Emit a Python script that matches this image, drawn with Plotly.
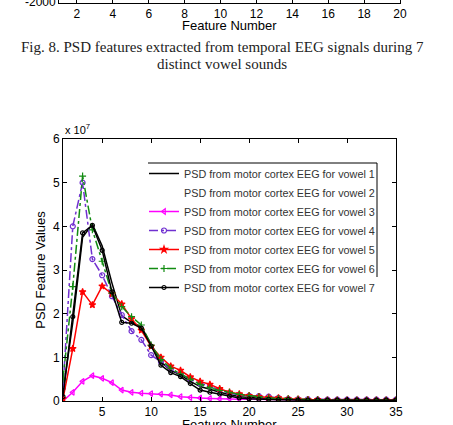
import plotly.graph_objects as go

W, H = 453, 425

# ---------------- data (PSD values in units of 1e7) ----------------
features = list(range(1, 36))

vowel1 = [0.2, 1.8, 3.75, 4.05, 3.55, 2.7, 1.95, 1.8, 1.7, 1.3, 0.9, 0.7, 0.6, 0.45, 0.33,
          0.27, 0.2, 0.15, 0.1, 0.08, 0.06, 0.05, 0.04, 0.03, 0.03, 0.02, 0.02, 0.02, 0.02,
          0.02, 0.02, 0.02, 0.02, 0.02, 0.02]
vowel2 = [0.3, 2.2, 4.2, 4.3, 3.6, 2.9, 2.2, 1.9, 1.6, 1.2, 0.9, 0.72, 0.6, 0.5, 0.4,
          0.3, 0.25, 0.2, 0.15, 0.1, 0.08, 0.06, 0.05, 0.04, 0.03, 0.03, 0.02, 0.02, 0.02,
          0.02, 0.02, 0.02, 0.02, 0.02, 0.02]
vowel3 = [0.0, 0.2, 0.45, 0.58, 0.52, 0.42, 0.25, 0.2, 0.18, 0.17, 0.16, 0.14, 0.1, 0.08, 0.07,
          0.06, 0.05, 0.05, 0.04, 0.04, 0.04, 0.03, 0.03, 0.03, 0.03, 0.03, 0.02, 0.02, 0.02,
          0.02, 0.02, 0.02, 0.02, 0.02, 0.02]
vowel4 = [0.3, 4.0, 5.0, 3.25, 2.88, 2.4, 1.97, 1.6, 1.4, 1.05, 0.9, 0.72, 0.62, 0.5, 0.4,
          0.34, 0.25, 0.18, 0.14, 0.12, 0.11, 0.1, 0.07, 0.05, 0.04, 0.04, 0.03, 0.03, 0.03,
          0.03, 0.03, 0.03, 0.03, 0.03, 0.03]
vowel5 = [0.05, 1.2, 2.5, 2.2, 2.63, 2.45, 2.22, 1.88, 1.62, 1.25, 1.0, 0.8, 0.7, 0.55, 0.45,
          0.38, 0.28, 0.2, 0.16, 0.12, 0.1, 0.08, 0.07, 0.05, 0.04, 0.03, 0.03, 0.02, 0.02,
          0.02, 0.02, 0.02, 0.02, 0.02, 0.02]
vowel6 = [0.5, 2.62, 5.15, 3.92, 3.2, 2.47, 2.16, 1.93, 1.74, 1.28, 0.95, 0.75, 0.62, 0.5, 0.38,
          0.3, 0.24, 0.2, 0.15, 0.12, 0.09, 0.07, 0.06, 0.05, 0.04, 0.03, 0.03, 0.02, 0.02,
          0.02, 0.02, 0.02, 0.02, 0.02, 0.02]
vowel7 = [0.1, 1.93, 3.85, 4.02, 3.45, 2.5, 1.8, 1.78, 1.67, 1.26, 0.82, 0.65, 0.56, 0.4, 0.25,
          0.2, 0.16, 0.11, 0.07, 0.05, 0.04, 0.04, 0.03, 0.03, 0.02, 0.02, 0.02, 0.02, 0.02,
          0.02, 0.02, 0.02, 0.02, 0.02, 0.02]

x_ticks = [5, 10, 15, 20, 25, 30, 35]
y_ticks = [0, 1, 2, 3, 4, 5, 6]
prev_x_ticks = [2, 4, 6, 8, 10, 12, 14, 16, 18, 20]
prev_y_ticks = [-2000]

x_title = "Feature Number"
y_title = "PSD Feature Values"
legend_names = ["PSD from motor cortex EEG for vowel %d" % i for i in range(1, 8)]
caption1 = "Fig. 8. PSD features extracted from temporal EEG signals during 7"
caption2 = "distinct vowel sounds"

# ---------------- styles ----------------
series = [
    # (values, name, color, dash, marker symbol, marker size, rank)
    (vowel2, legend_names[1], "white", "solid", None, 0, 2),
    (vowel1, legend_names[0], "black", "solid", None, 0, 1),
    (vowel3, legend_names[2], "#ff00ff", "solid", "triangle-left-open", 5, 3),
    (vowel4, legend_names[3], "#7030d0", "dashdot", "circle-open", 5, 4),
    (vowel5, legend_names[4], "#ff0000", "solid", "star", 5, 5),
    (vowel6, legend_names[5], "#128c12", "dashdot", "cross-thin-open", 5, 6),
    (vowel7, legend_names[6], "black", "solid", "circle-open", 4, 7),
]

fig = go.Figure()
for vals, name, color, dash, sym, msize, rank in series:
    mode = "lines+markers" if sym else "lines"
    tr = dict(x=features, y=vals, name=name, mode=mode, legendrank=rank,
              line=dict(color=color, width=1.5, dash=dash))
    if sym:
        tr["marker"] = dict(symbol=sym, size=msize, color=color,
                            line=dict(color=color, width=1.2))
    fig.add_trace(go.Scatter(**tr))

SANS = "Liberation Sans, Arial, sans-serif"
TICKFONT = dict(family=SANS, size=12, color="black")
TITLEFONT = dict(family=SANS, size=13, color="black")

fig.update_layout(
    width=W, height=H,
    margin=dict(l=0, r=0, t=0, b=0, autoexpand=False),
    paper_bgcolor="white", plot_bgcolor="white",
    showlegend=True,
    legend=dict(x=144 / W, y=1 - 159 / H, xanchor="left", yanchor="top",
                bgcolor="rgba(255,255,255,0)", borderwidth=0,
                font=dict(family=SANS, size=10.8, color="#333"),
                itemwidth=30, tracegroupgap=0),
    xaxis=dict(domain=[63 / W, 396 / W], range=[1, 35], tickvals=x_ticks, automargin=False,
               ticks="inside", ticklen=4, tickcolor="black", mirror="ticks",
               showline=True, linecolor="black", linewidth=1,
               showgrid=False, zeroline=False, tickfont=TICKFONT),
    yaxis=dict(domain=[24 / H, 286 / H], range=[0, 6], tickvals=y_ticks, automargin=False,
               ticks="inside", ticklen=4, tickcolor="black", mirror="ticks",
               showline=True, linecolor="black", linewidth=1,
               showgrid=False, zeroline=False, tickfont=TICKFONT,
               title=dict(text=y_title, standoff=4, font=TITLEFONT)),
    xaxis2=dict(domain=[59 / W, 400 / W], range=[1, 20], tickvals=prev_x_ticks, anchor="y2",
                automargin=False,
                ticks="inside", ticklen=4, tickcolor="black", mirror="ticks",
                showline=True, linecolor="black", linewidth=1,
                showgrid=False, zeroline=False, tickfont=TICKFONT),
    yaxis2=dict(domain=[1 - 3 / H, 1], range=[-2000, 0], tickvals=prev_y_ticks, anchor="x2",
                automargin=False, showticklabels=False,
                ticks="inside", ticklen=4, tickcolor="black", mirror=True,
                showline=True, linecolor="black", linewidth=1,
                showgrid=False, zeroline=False),
)

# anchor an invisible trace on the remnant axes so they render
fig.add_trace(go.Scatter(x=[None], y=[None], xaxis="x2", yaxis="y2", showlegend=False,
                         hoverinfo="skip"))

# remnant y tick label of the previous figure (cut by the page top)
fig.add_annotation(text=str(prev_y_ticks[0]), x=58 / W, y=1 - 2 / H, xref="paper", yref="paper",
                   xanchor="right", yanchor="middle", showarrow=False, font=TICKFONT)
# axis titles
fig.add_annotation(text=x_title, x=229 / W, y=1 - 26 / H, xref="paper", yref="paper",
                   xanchor="center", yanchor="middle", showarrow=False, font=TITLEFONT)
fig.add_annotation(text=x_title, x=229 / W, y=1 - 424 / H, xref="paper", yref="paper",
                   xanchor="center", yanchor="middle", showarrow=False, font=TITLEFONT)

fig.add_annotation(text="x 10<sup>7</sup>", x=63 / W, y=1 - 129 / H, xref="paper", yref="paper",
                   xanchor="left", yanchor="middle", showarrow=False,
                   font=dict(family=SANS, size=11, color="black"))
fig.add_annotation(text=caption1, x=222 / W, y=1 - 47 / H, xref="paper", yref="paper",
                   xanchor="center", yanchor="middle", showarrow=False,
                   font=dict(family="Liberation Serif, Times New Roman, serif", size=15, color="#222"))
fig.add_annotation(text=caption2, x=222 / W, y=1 - 64 / H, xref="paper", yref="paper",
                   xanchor="center", yanchor="middle", showarrow=False,
                   font=dict(family="Liberation Serif, Times New Roman, serif", size=15, color="#222"))

# legend frame (top and right edges)
fig.add_shape(type="line", xref="paper", yref="paper", x0=148 / W, x1=377 / W,
              y0=1 - 163 / H, y1=1 - 163 / H, line=dict(color="black", width=1))
fig.add_shape(type="line", xref="paper", yref="paper", x0=377 / W, x1=377 / W,
              y0=1 - 163 / H, y1=1 - 277 / H, line=dict(color="black", width=1))

fig.write_html("out.html")
